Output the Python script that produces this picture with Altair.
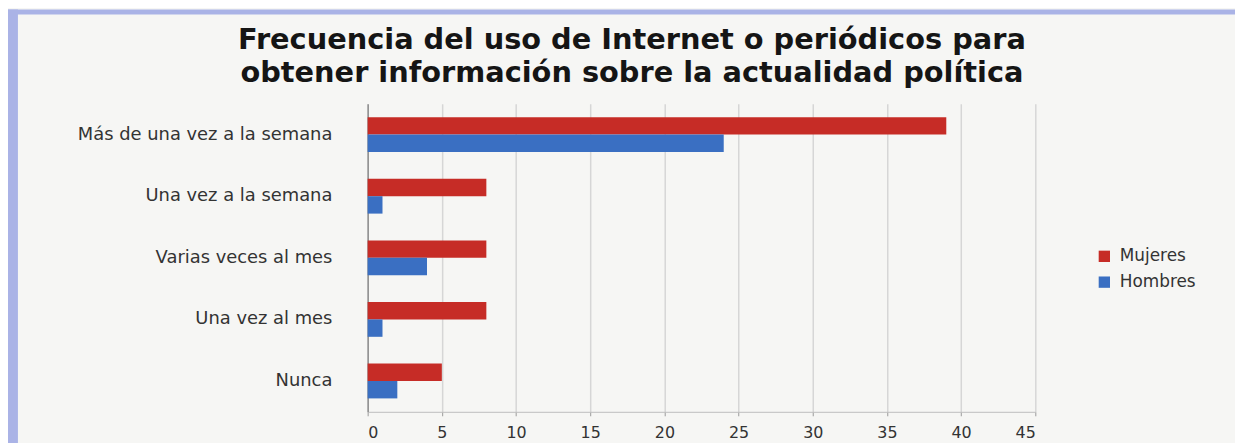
import altair as alt
import pandas as pd

categories = ["Más de una vez a la semana", "Una vez a la semana", "Varias veces al mes",
              "Una vez al mes", "Nunca"]
series = ["Mujeres", "Hombres"]
mujeres = [39, 8, 8, 8, 5]
hombres = [24, 1, 4, 1, 2]
x_ticks = [0, 5, 10, 15, 20, 25, 30, 35, 40, 45]
title_lines = ["Frecuencia del uso de Internet o periódicos para",
               "obtener información sobre la actualidad política"]

rows = []
for c, m, h in zip(categories, mujeres, hombres):
    rows.append({"Frecuencia": c, "Sexo": "Mujeres", "Valor": m})
    rows.append({"Frecuencia": c, "Sexo": "Hombres", "Valor": h})
df = pd.DataFrame(rows)

FONT = "DejaVu Sans"
LAV = "#aab3e6"

bars = alt.Chart(df).mark_bar(stroke=None).encode(
    y=alt.Y("Frecuencia:N", sort=categories, title=None,
            scale=alt.Scale(paddingInner=0.435, paddingOuter=0.2175),
            axis=alt.Axis(ticks=False, labelPadding=36, labelFontSize=18, labelFont=FONT,
                          labelColor="#333333", domainColor="#8c8c8c", domainWidth=1.5,
                          grid=False, labelLimit=400)),
    yOffset=alt.YOffset("Sexo:N", sort=series),
    x=alt.X("Valor:Q", title=None,
            scale=alt.Scale(domain=[0, 45], nice=False),
            axis=alt.Axis(values=x_ticks, labelFontSize=16, labelFont=FONT, labelColor="#333333",
                          gridColor="#d6d6d6", gridWidth=1.5, domainColor="#bdbdbd",
                          tickColor="#9a9a9a", tickSize=4, labelPadding=9)),
    color=alt.Color("Sexo:N", scale=alt.Scale(domain=series, range=["#c62c26", "#3a6fc2"]),
                    legend=alt.Legend(title=None, orient="none", legendX=733, legendY=145,
                                      symbolType="square", symbolSize=130, symbolStrokeWidth=0,
                                      labelFontSize=17, labelFont=FONT, labelColor="#333333",
                                      rowPadding=8, labelOffset=7)),
)

deco = pd.DataFrame({"k": [0]})
left_strip = alt.Chart(deco).mark_rect(color=LAV).encode(
    x=alt.value(-362), x2=alt.value(-352), y=alt.value(-95), y2=alt.value(345))
top_strip = alt.Chart(deco).mark_rect(color=LAV).encode(
    x=alt.value(-362), x2=alt.value(873), y=alt.value(-95), y2=alt.value(-90))
title = alt.Chart(deco).mark_text(
    text=title_lines, font=FONT, fontSize=29, fontWeight="bold", color="#151515",
    align="center", baseline="middle", lineHeight=33,
).encode(x=alt.value(266), y=alt.value(-64))

chart = alt.layer(bars, left_strip, top_strip, title).properties(
    width=672, height=310,
    autosize=alt.AutoSizeParams(type="none"),
    padding={"left": 362, "top": 95, "right": 201, "bottom": 35},
    background="#f6f6f4",
).configure_view(stroke=None)

chart.save("out.html", embed_options={"renderer": "svg", "actions": False})
